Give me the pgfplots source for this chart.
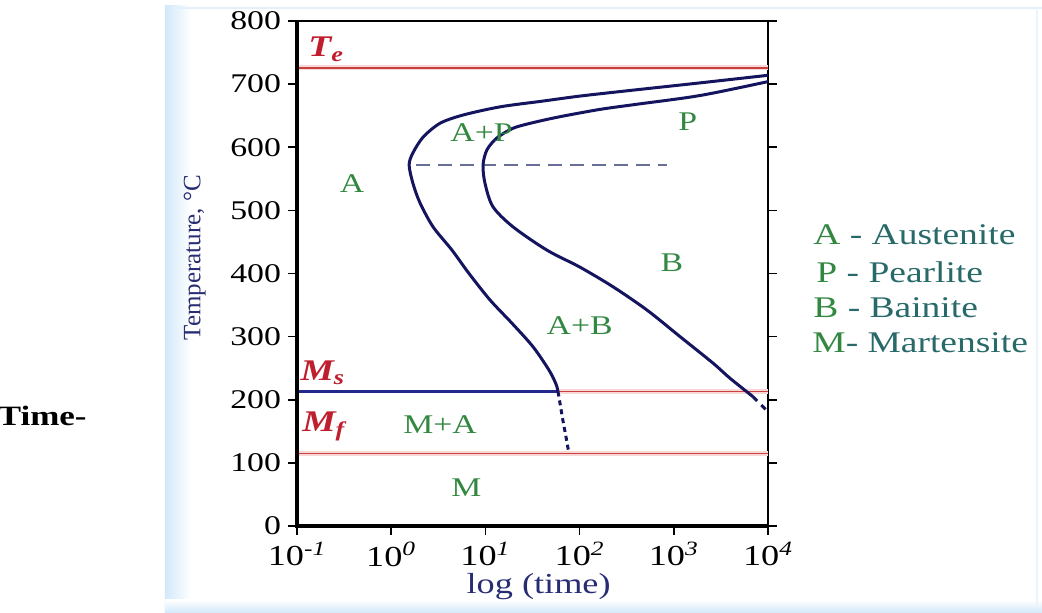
\documentclass[border=0pt]{standalone}
\usepackage{pgfplots}
\pgfplotsset{compat=1.18}
\usepackage{fontspec}
\setmainfont{Liberation Serif}[FakeStretch=1.25]
\newfontfamily\plainserif{Liberation Serif}
\definecolor{navy}{RGB}{20,20,95}
\definecolor{msblue}{RGB}{35,40,140}
\definecolor{redline}{RGB}{200,65,65}
\definecolor{redhalo}{RGB}{250,215,215}
\definecolor{redlab}{RGB}{190,30,45}
\definecolor{grn}{RGB}{50,135,65}
\definecolor{teal2}{RGB}{40,105,105}
\definecolor{labblue}{RGB}{40,45,115}
\definecolor{frameblue}{RGB}{210,232,250}
\definecolor{dashgray}{RGB}{105,110,150}
\newcommand\fs[1]{\fontsize{#1}{#1}\selectfont}
\begin{document}
\begin{tikzpicture}
\useasboundingbox (-148.5pt,-43.5pt) rectangle (372.5pt,263pt);
% frame of the slide
\shade[left color=frameblue,right color=white] (-66pt,-43.5pt) rectangle (-53pt,260pt);
\shade[bottom color=frameblue,top color=white] (-66pt,-43.5pt) rectangle (372.5pt,-37pt);
\draw[frameblue!60,line width=0.8pt] (-60pt,259pt) -- (372.5pt,259pt);
\draw[frameblue!50,line width=0.8pt] (370pt,259pt) -- (370pt,-40pt);
\node[anchor=base east,inner sep=0,font=\fs{14pt}\bfseries] at (-105pt,50pt) {Time-};
\begin{axis}[
  scale only axis, width=235.5pt, height=252.5pt,
  clip mode=individual,
  xmode=log, xmin=0.1, xmax=10000, ymin=0, ymax=800,
  xtick={0.1,1,10,100,1000,10000},
  xticklabels={{10\textsuperscript{\textit{-1}}},{10\textsuperscript{\textit{0}}},{10\textsuperscript{\textit{1}}},{10\textsuperscript{\textit{2}}},{10\textsuperscript{\textit{3}}},{10\textsuperscript{\textit{4}}}},
  xminorticks=false,
  ytick={0,100,200,300,400,500,600,700,800},
  yticklabels={0,100,200,300,400,500,600,700,800},
  tick align=outside, xtick pos=lower, ytick pos=both, yticklabel pos=left,
  major tick length=4.5pt,
  tick style={black,line width=0.8pt},
  axis line style={black,line width=1pt},
  y tick label style={font=\fs{13.5pt}},
  x tick label style={font=\fs{14.5pt}},
  xlabel={log (time)},
  xlabel style={font=\fs{14.5pt},text=labblue,at={(axis description cs:0.513,-0.12)},anchor=center},
  ylabel={Temperature, °C},
  ylabel style={font=\plainserif\fs{12.5pt},text=labblue,at={(axis description cs:-0.217,0.531)},anchor=center},
]
% red reference lines
\addplot[redhalo,line width=2.4pt] coordinates {(0.1,726) (10000,726)};
\addplot[redline,line width=0.9pt] coordinates {(0.1,726) (10000,726)};
\addplot[redhalo,line width=2.4pt] coordinates {(0.1,115) (10000,115)};
\addplot[redline,line width=0.9pt] coordinates {(0.1,115) (10000,115)};
\addplot[redhalo,line width=2.4pt] coordinates {(59,213) (10000,213)};
\addplot[redline,line width=0.9pt] coordinates {(59,213) (10000,213)};
\addplot[msblue,line width=1.1pt] coordinates {(0.1,213) (59,213)};
% dashed line at the nose
\addplot[dashgray,line width=0.6pt,dash pattern=on 7pt off 4pt] coordinates {(1.85,572) (850,572)};
% start curve
\addplot[navy,line width=1.5pt,smooth,tension=0.5] coordinates {
(10000,714) (1905,702) (300,689) (100,681) (40,673) (14.3,664) (5.78,651) (3.30,638) (2.18,616) (1.70,591) (1.55,572) (1.70,543) (2.02,512) (2.78,474) (4.42,437) (6.70,400) (11.2,358) (19.2,321) (32.0,284) (47.3,247) (56.1,225) (59,213)};
\addplot[navy,line width=1.5pt,dash pattern=on 2.5pt off 2pt] coordinates {(59,213) (66,170) (74,130) (77,115)};
% finish curve
\addplot[navy,line width=1.5pt,smooth,tension=0.5] coordinates {
(10000,704) (1905,682) (400,668) (165,660) (60,648) (30,638) (19.6,630) (13.3,615) (10.4,596) (9.44,572) (9.9,543) (12.0,506) (19.6,474) (45,437) (101,410) (226,379) (520,342) (1164,300) (2607,258) (3953,234) (6918,205)};
\addplot[navy,line width=1.5pt,dash pattern=on 3pt off 3pt] coordinates {(6918,205) (10000,181)};
% region labels
\node[text=grn,font=\fs{13.5pt}] at (axis cs:0.384,543) {A};
\node[text=grn,font=\fs{13.5pt}] at (axis cs:9.1,624) {A+P};
\node[text=grn,font=\fs{13.5pt}] at (axis cs:1410,640) {P};
\node[text=grn,font=\fs{13.5pt}] at (axis cs:955,417) {B};
\node[text=grn,font=\fs{13.5pt}] at (axis cs:100,318) {A+B};
\node[text=grn,font=\fs{13.5pt}] at (axis cs:3.3,160) {M+A};
\node[text=grn,font=\fs{13.5pt}] at (axis cs:6.3,60) {M};
% red labels
\node[anchor=base west,inner sep=0,text=redlab,font=\fs{15pt}\bfseries\itshape] at (axis cs:0.131,743) {T\textsubscript{e}};
\node[anchor=base west,inner sep=0,text=redlab,font=\fs{15pt}\bfseries\itshape] at (axis cs:0.108,231) {M\textsubscript{s}};
\node[anchor=base west,inner sep=0,text=redlab,font=\fs{15pt}\bfseries\itshape] at (axis cs:0.113,149) {M\textsubscript{f}};
% heavier left and bottom spines
\draw[black,line width=1.6pt] (rel axis cs:0,1) -- (rel axis cs:0,0) -- (rel axis cs:1,0);
\end{axis}
% side legend
\node[anchor=base west,inner sep=0,font=\fs{15pt}] at (258pt,140.5pt) {\textcolor{grn}{A}\textcolor{teal2}{\ - Austenite}};
\node[anchor=base west,inner sep=0,font=\fs{15pt}] at (259.5pt,121.5pt) {\textcolor{grn}{P}\textcolor{teal2}{\ - Pearlite}};
\node[anchor=base west,inner sep=0,font=\fs{15pt}] at (258pt,104pt) {\textcolor{grn}{B}\textcolor{teal2}{\ - Bainite}};
\node[anchor=base west,inner sep=0,font=\fs{15pt}] at (257.5pt,86.5pt) {\textcolor{grn}{M}\textcolor{teal2}{- Martensite}};
\end{tikzpicture}
\end{document}
